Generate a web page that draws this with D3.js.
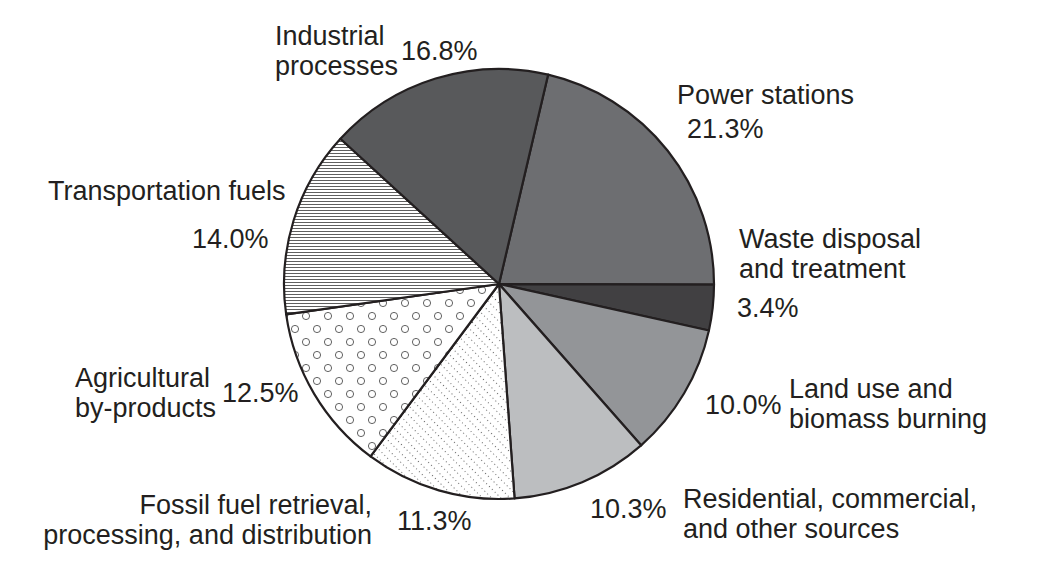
<!DOCTYPE html>
<html>
<head>
<meta charset="utf-8">
<script src="https://cdn.jsdelivr.net/npm/d3@7"></script>
<style>
  body { margin: 0; background: #fff; }
  text { font-family: "Liberation Sans", Arial, sans-serif; font-size: 27px; fill: #231f20; }
</style>
</head>
<body>
<script>
// data, clockwise from the top
let categories = ['Power stations', 'Waste disposal and treatment', 'Land use and biomass burning',
    'Residential, commercial, and other sources', 'Fossil fuel retrieval, processing, and distribution',
    'Agricultural by-products', 'Transportation fuels', 'Industrial processes'];
let shares = [21.3, 3.4, 10.0, 10.3, 11.3, 12.5, 14.0, 16.8];
let nameLines = [
    ['Power stations'],
    ['Waste disposal', 'and treatment'],
    ['Land use and', 'biomass burning'],
    ['Residential, commercial,', 'and other sources'],
    ['Fossil fuel retrieval,', 'processing, and distribution'],
    ['Agricultural', 'by-products'],
    ['Transportation fuels'],
    ['Industrial', 'processes']
];

// fills, same order
let fills = ['#6d6e71', '#414042', '#939598', '#bcbec0', 'url(#diag)', 'url(#rings)', 'url(#hlines)', '#58595b'];

// label placement: name x, first baseline, anchor, percent x, percent baseline
let layout = [
    {nx: 677, ny: 104, anchor: 'start', px: 687, py: 138},
    {nx: 739, ny: 248, anchor: 'start', px: 737, py: 317},
    {nx: 789, ny: 398, anchor: 'start', px: 705, py: 414},
    {nx: 683, ny: 508, anchor: 'start', px: 590, py: 518},
    {nx: 372, ny: 514, anchor: 'end', px: 397, py: 530},
    {nx: 75, ny: 387, anchor: 'start', px: 222, py: 402},
    {nx: 48, ny: 200, anchor: 'start', px: 192, py: 248},
    {nx: 275, ny: 45, anchor: 'start', px: 401, py: 60}
];

let width = 1064, height = 562;
let cx = 499, cy = 284, radius = 215;

let svg = d3.select('body').append('svg')
    .attr('width', width)
    .attr('height', height);

let defs = svg.append('defs');

// horizontal hatching
let hl = defs.append('pattern')
    .attr('id', 'hlines')
    .attr('patternUnits', 'userSpaceOnUse')
    .attr('width', 10).attr('height', 3);
hl.append('rect').attr('width', 10).attr('height', 3).attr('fill', '#fff');
hl.append('rect').attr('y', 1).attr('width', 10).attr('height', 0.9).attr('fill', '#4d4d4d');

// small open circles
let rg = defs.append('pattern')
    .attr('id', 'rings')
    .attr('patternUnits', 'userSpaceOnUse')
    .attr('width', 22).attr('height', 26);
rg.append('rect').attr('width', 22).attr('height', 26).attr('fill', '#fff');
[[5, 6], [16, 19]].forEach(function (p) {
    rg.append('circle')
        .attr('cx', p[0]).attr('cy', p[1]).attr('r', 3.6)
        .attr('fill', 'none')
        .attr('stroke', '#3a3a3a')
        .attr('stroke-width', 0.8);
});

// dotted diagonal lines
let dg = defs.append('pattern')
    .attr('id', 'diag')
    .attr('patternUnits', 'userSpaceOnUse')
    .attr('width', 4).attr('height', 6.5)
    .attr('patternTransform', 'rotate(45)');
dg.append('rect').attr('width', 4).attr('height', 6.5).attr('fill', '#fff');
dg.append('rect').attr('width', 1).attr('height', 1).attr('fill', '#666');

let start = 13.2 * Math.PI / 180;
let pie = d3.pie().sort(null)
    .startAngle(start)
    .endAngle(start + 2 * Math.PI)
    .value(function (d) { return d; });

let arc = d3.arc().innerRadius(0).outerRadius(radius);

let chart = svg.append('g')
    .attr('transform', 'translate(' + cx + ',' + cy + ')');

chart.selectAll('path')
    .data(pie(shares))
    .enter()
    .append('path')
    .attr('d', arc)
    .attr('fill', function (d, i) { return fills[i]; })
    .attr('stroke', '#231f20')
    .attr('stroke-width', 2.2)
    .attr('stroke-linejoin', 'round');

let fmt = d3.format('.1f');
let labels = svg.append('g').attr('class', 'labels');

categories.forEach(function (c, i) {
    let l = layout[i];
    let t = labels.append('text')
        .attr('x', l.nx)
        .attr('y', l.ny)
        .attr('text-anchor', l.anchor);
    nameLines[i].forEach(function (line, j) {
        t.append('tspan')
            .attr('x', l.nx)
            .attr('dy', j === 0 ? 0 : 30)
            .text(line);
    });
    labels.append('text')
        .attr('x', l.px)
        .attr('y', l.py)
        .text(fmt(shares[i]) + '%');
});
</script>
</body>
</html>
